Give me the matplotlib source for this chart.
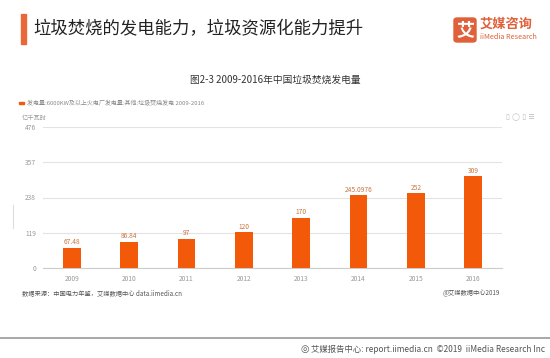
import matplotlib
matplotlib.use('Agg')
import matplotlib.pyplot as plt
from matplotlib.patches import Rectangle, FancyBboxPatch
import numpy as np

plt.rcParams['font.family'] = ['Noto Sans CJK SC', 'DejaVu Sans']

# data
years = ['2009', '2010', '2011', '2012', '2013', '2014', '2015', '2016']
power = [67.48, 86.84, 97, 120, 170, 245.0976, 252, 309]
value_labels = ['67.48', '86.84', '97', '120', '170', '245.0976', '252', '309']
y_ticks = [0, 119, 238, 357, 476]

W, H = 550, 358
fig = plt.figure(figsize=(W / 100, H / 100), dpi=100)
fig.patch.set_facecolor('white')

def fx(x):
    return x / W

def fy(y):
    return 1 - y / H

orange = '#f25a0a'
gray = '#999999'

# header
fig.patches.append(Rectangle((fx(21), fy(44)), fx(5), 30 / H, transform=fig.transFigure,
                             color='#e8683a', zorder=3))
fig.text(fx(33), fy(29), '垃圾焚烧的发电能力，垃圾资源化能力提升', fontsize=12.5,
         color='#222222', va='center', ha='left', fontweight='medium')

# logo
fig.patches.append(FancyBboxPatch((fx(454), fy(42)), fx(22), 24 / H, transform=fig.transFigure,
                                  boxstyle='round,pad=0,rounding_size=0.006', color='#e0603a'))
fig.text(fx(465), fy(30), '艾', fontsize=13, color='white', ha='center', va='center',
         fontweight='bold')
fig.text(fx(480), fy(24), '艾媒咨询', fontsize=9.5, color='#e0603a', ha='left', va='center',
         fontweight='bold')
fig.text(fx(480), fy(37), 'iiMedia Research', fontsize=5.2, color='#e0603a', ha='left',
         va='center')

# chart title
fig.text(fx(275), fy(80), '图2-3 2009-2016年中国垃圾焚烧发电量', fontsize=7, color='#333333',
         ha='center', va='center')

# legend
fig.patches.append(Rectangle((fx(19), fy(104)), fx(5), 2 / H, transform=fig.transFigure,
                             color=orange))
fig.text(fx(27), fy(103), '发电量:6000KW及以上火电厂发电量:其他:垃圾焚烧发电 2009-2016',
         fontsize=4.3, color='#888888', ha='left', va='center')

# axes
ax = fig.add_axes([fx(43), fy(268), fx(502) - fx(43), (268 - 127) / H])
x = np.arange(len(years))
ax.bar(x, power, width=0.31, color=orange, zorder=3)
for xi, v, lab in zip(x, power, value_labels):
    ax.text(xi, v + 6, lab, ha='center', va='bottom', fontsize=4.8, color='#c8763f')

ax.set_xlim(-0.5, len(years) - 0.5)
ax.set_ylim(0, 476)
ax.set_yticks(y_ticks)
ax.set_yticklabels([str(t) for t in y_ticks])
ax.set_xticks(x)
ax.set_xticklabels(years)
ax.tick_params(axis='both', length=0, labelsize=4.8, colors=gray, pad=5)
ax.grid(axis='y', color='#e3e3e3', linewidth=0.8, zorder=0)
for s in ['top', 'right', 'left']:
    ax.spines[s].set_visible(False)
ax.spines['bottom'].set_color('#cccccc')
ax.spines['bottom'].set_linewidth(0.8)

fig.text(fx(22), fy(118), '亿千瓦时', fontsize=4.5, color=gray, ha='left', va='center')

# toolbox icons
fig.text(fx(535), fy(117), '▯ ◯ ▯ ☰', fontsize=5, color='#bbbbbb', ha='right', va='center',
         family=['DejaVu Sans'])

# faint side mark
fig.lines.append(plt.Line2D([fx(13), fx(13)], [fy(205), fy(228)], transform=fig.transFigure,
                            color='#dddddd', linewidth=0.8))

# source
fig.text(fx(22), fy(293), '数据来源：中国电力年鉴，艾媒数据中心 data.iimedia.cn', fontsize=4.5,
         color='#555555', ha='left', va='center')
fig.text(fx(500), fy(293), '@艾媒数据中心2019', fontsize=4.5, color='#555555', ha='right',
         va='center')

# footer
fig.lines.append(plt.Line2D([0, 1], [fy(338), fy(338)], transform=fig.transFigure,
                            color='#999999', linewidth=1.2))
fig.text(fx(545), fy(349), '艾媒报告中心: report.iimedia.cn  ©2019  iiMedia Research Inc',
         fontsize=6, color='#555555', ha='right', va='center')
fig.text(fx(309), fy(349), '◎', fontsize=7, color='#555555', ha='right', va='center',
         family=['DejaVu Sans'])

fig.savefig('out.png', dpi=100, facecolor='white')
